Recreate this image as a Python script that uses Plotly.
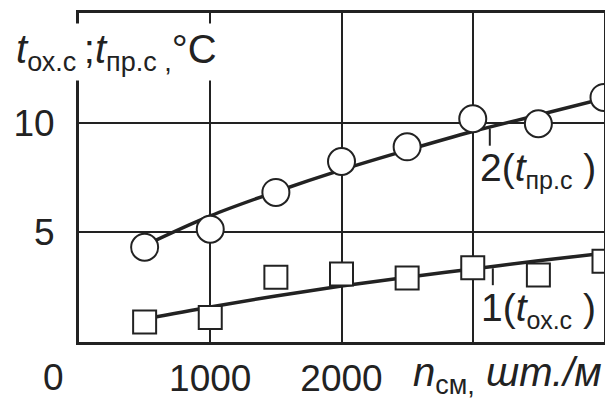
import plotly.graph_objects as go

# ---- data ----
n_points = [500, 1000, 1500, 2000, 2500, 3000, 3500, 4000]
t_pr_points = [4.32, 5.14, 6.82, 8.23, 8.9, 10.18, 9.95, 11.15]
t_ox_points = [0.91, 1.12, 2.95, 3.1, 2.92, 3.38, 3.05, 3.68]

fit_n = [500, 1000, 1500, 2000, 2500, 3000, 3500, 4000]
fit_pr = [4.4, 5.75, 6.85, 7.85, 8.75, 9.6, 10.35, 11.1]
fit_ox = [1.05, 1.6, 2.1, 2.55, 2.95, 3.33, 3.7, 4.05]

x_tickvals = [1000, 2000, 3000]
x_ticktext = ["1000", "2000", ""]
y_tickvals = [5, 10]
y_ticktext = ["5", "10"]

# leader ticks from curves to labels (data coords)
lead2 = dict(x=3130, y0=9.73, y1=8.95)
lead1 = dict(x=3153, y0=3.36, y1=2.59)

FONT = "Liberation Sans"
INK = "#222222"
OFF = 8  # page body margin
W, H = 613 - OFF, 401 - OFF
# plot box in page pixels: left 79, right 604, top 13, bottom 342
L, R, T, B = 79 - OFF, W - (604 - OFF), 13 - OFF, H - (342 - OFF)
PW, PH = W - L - R, H - T - B


def px(xp):
    return (xp - OFF - L) / PW


def py(yp):
    return (H - B - (yp - OFF)) / PH


def sub(s, size=27):
    return f"<sub><span style='font-size:{size}px'>{s}</span></sub>"


fig = go.Figure()

fig.add_trace(go.Scatter(x=fit_n, y=fit_pr, mode="lines", line=dict(color=INK, width=3.5, shape="spline"),
                         hoverinfo="skip", showlegend=False))
fig.add_trace(go.Scatter(x=fit_n, y=fit_ox, mode="lines", line=dict(color=INK, width=3.5, shape="spline"),
                         hoverinfo="skip", showlegend=False))
fig.add_trace(go.Scatter(x=n_points, y=t_pr_points, mode="markers", cliponaxis=False,
                         marker=dict(symbol="circle", size=27, color="white", line=dict(color=INK, width=2)),
                         showlegend=False))
fig.add_trace(go.Scatter(x=n_points, y=t_ox_points, mode="markers", cliponaxis=False,
                         marker=dict(symbol="square", size=23, color="white", line=dict(color=INK, width=2)),
                         showlegend=False))

for ld in (lead2, lead1):
    fig.add_shape(type="line", xref="x", yref="y", x0=ld["x"], x1=ld["x"], y0=ld["y0"], y1=ld["y1"],
                  line=dict(color=INK, width=2))

fig.update_xaxes(range=[0, 4000], tickvals=x_tickvals, ticktext=x_ticktext, showgrid=True,
                 gridcolor=INK, gridwidth=2, showline=True, linecolor=INK, linewidth=3, mirror=True,
                 ticks="", ticklabelstandoff=2, zeroline=False, automargin=False,
                 tickfont=dict(family=FONT, size=37, color=INK))
fig.update_yaxes(range=[0, 15], tickvals=y_tickvals, ticktext=y_ticktext, showgrid=True,
                 gridcolor=INK, gridwidth=2, showline=True, linecolor=INK, linewidth=3, mirror=True,
                 ticks="", ticklabelstandoff=14, zeroline=False, automargin=False,
                 tickfont=dict(family=FONT, size=37, color=INK))

annos = [
    dict(text="<i>t</i>" + sub("ох.с ") + ";<i>t</i>" + sub("пр.с ,") + "°C", x=px(12), y=py(52),
         xanchor="left", yanchor="middle", font=dict(family=FONT, size=40, color=INK),
         bgcolor="white", borderpad=3),
    dict(text="<i>n</i>" + sub("см,") + " <i>шт./м</i>", x=px(604), y=py(375),
         xanchor="right", yanchor="middle", font=dict(family=FONT, size=40, color=INK)),
    dict(text="0", x=px(53), y=py(377), xanchor="center", yanchor="middle",
         font=dict(family=FONT, size=37, color=INK)),
    dict(text="2(<i>t</i>" + sub("пр.с", 25) + " )", x=px(538), y=py(170), xanchor="center", yanchor="middle",
         font=dict(family=FONT, size=39, color=INK)),
    dict(text="1(<i>t</i>" + sub("ох.с", 25) + " )", x=px(538), y=py(310), xanchor="center", yanchor="middle",
         font=dict(family=FONT, size=39, color=INK)),
]
for a in annos:
    fig.add_annotation(xref="paper", yref="paper", showarrow=False, **a)

fig.update_layout(width=W, height=H, margin=dict(l=L, r=R, t=T, b=B),
                  plot_bgcolor="white", paper_bgcolor="white",
                  font=dict(family=FONT, color=INK))

fig.write_html("out.html")
